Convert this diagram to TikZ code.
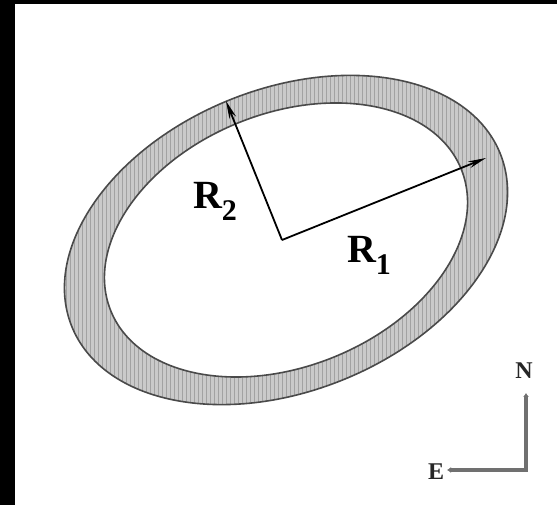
\documentclass[tikz,border=0pt]{standalone}
\usepackage{fontspec}
\setmainfont{Liberation Serif}
\usetikzlibrary{arrows.meta}
\definecolor{ringfill}{HTML}{CACACA}
\definecolor{ringline}{HTML}{4A4A4A}
\definecolor{stripe}{HTML}{A2A2A2}
\definecolor{compasscol}{HTML}{707070}
\begin{document}
\begin{tikzpicture}[x=1pt,y=1pt,
  lbl/.style={font=\bfseries\fontsize{40}{40}\selectfont, inner sep=0pt},
  radiusarrow/.style={line width=1.8pt, -{Stealth[length=18pt,width=7pt]}},
  compassline/.style={compasscol, line width=3.4pt, line join=miter},
  cmp/.style={font=\bfseries\fontsize{24}{24}\selectfont, inner sep=0pt, text=black!85}]
\useasboundingbox (0,0) rectangle (557,505);
\fill[white] (0,0) rectangle (557,505);
\fill[black] (0,0) rectangle (15,505);
\fill[black] (0,501) rectangle (557,505);
% ring
\fill[ringfill, even odd rule, rotate around={22:(286,265)}]
  (286,265) ellipse [x radius=231, y radius=151]
  (286,265) ellipse [x radius=189, y radius=126.5];
\begin{scope}[even odd rule]
  \clip[rotate around={22:(286,265)}]
    (286,265) ellipse [x radius=231, y radius=151]
    (286,265) ellipse [x radius=189, y radius=126.5];
  \foreach \x in {50,54,...,530} \draw[stripe, line width=1pt] (\x,80) -- (\x,450);
\end{scope}
\draw[ringline, line width=1.6pt, rotate around={22:(286,265)}]
  (286,265) ellipse [x radius=231, y radius=151];
\draw[ringline, line width=1.6pt, rotate around={22:(286,265)}]
  (286,265) ellipse [x radius=189, y radius=126.5];
% radii
\coordinate (O) at (282,265);
\coordinate (R1tip) at (486,347);
\coordinate (R2tip) at (226,404);
\draw[radiusarrow] (O) -- (R1tip);
\draw[radiusarrow] (O) -- (R2tip);
\node[lbl] (r1) at (369,250) {R\raisebox{-0.3em}{\fontsize{30}{30}\selectfont 1}};
\node[lbl] (r2) at (215,304) {R\raisebox{-0.3em}{\fontsize{30}{30}\selectfont 2}};
% compass
\coordinate (corner) at (526,35);
\coordinate (Ntip) at (526,112);
\coordinate (Etip) at (447,35);
\draw[compassline, {Latex[length=4pt,width=6pt]}-{Latex[length=4pt,width=6pt]}] (Etip) -- (corner) -- (Ntip);
\node[cmp] (N) at (524,134) {N};
\node[cmp] (E) at (436,33) {E};
\end{tikzpicture}
\end{document}
